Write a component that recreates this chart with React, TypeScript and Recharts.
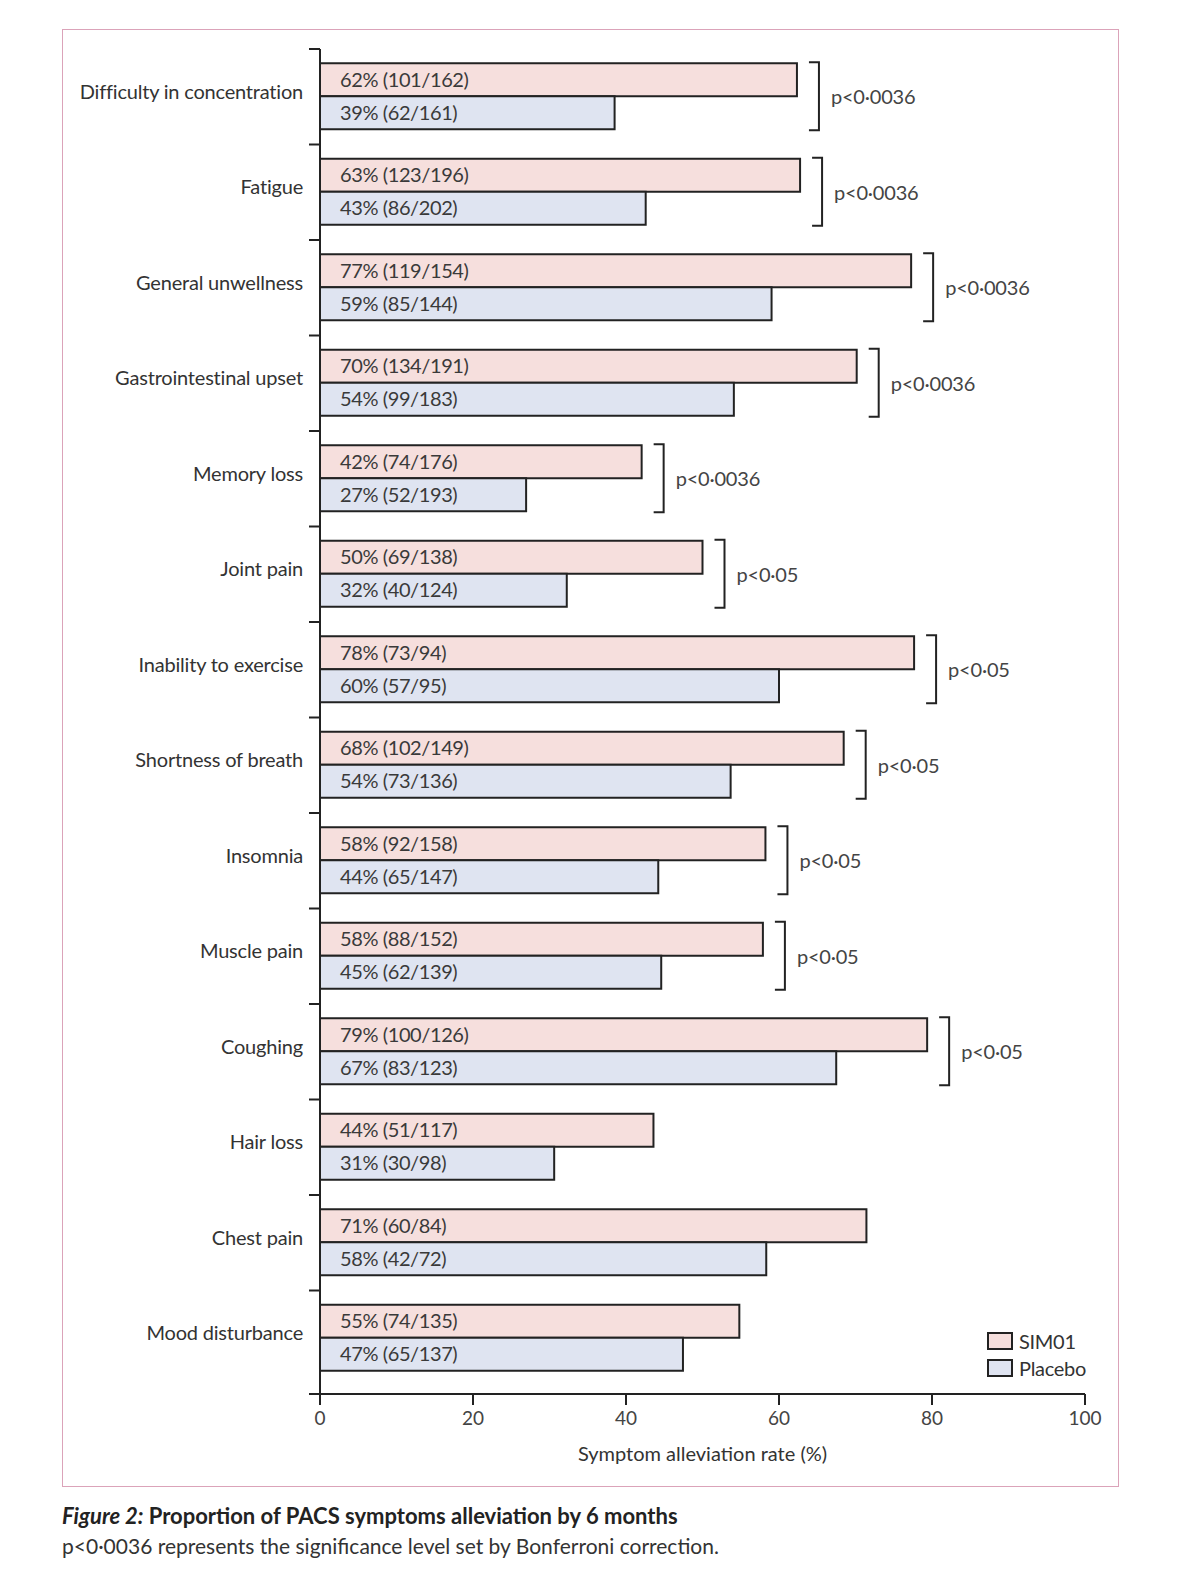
import React from 'react';
import { BarChart, Bar, XAxis, YAxis, LabelList } from 'recharts';

const categories = [
  'Difficulty in concentration',
  'Fatigue',
  'General unwellness',
  'Gastrointestinal upset',
  'Memory loss',
  'Joint pain',
  'Inability to exercise',
  'Shortness of breath',
  'Insomnia',
  'Muscle pain',
  'Coughing',
  'Hair loss',
  'Chest pain',
  'Mood disturbance',
];
const sim01Alleviated = [101, 123, 119, 134, 74, 69, 73, 102, 92, 88, 100, 51, 60, 74];
const sim01Total = [162, 196, 154, 191, 176, 138, 94, 149, 158, 152, 126, 117, 84, 135];
const placeboAlleviated = [62, 86, 85, 99, 52, 40, 57, 73, 65, 62, 83, 30, 42, 65];
const placeboTotal = [161, 202, 144, 183, 193, 124, 95, 136, 147, 139, 123, 98, 72, 137];
const pValues = [
  'p<0·0036', 'p<0·0036', 'p<0·0036', 'p<0·0036', 'p<0·0036',
  'p<0·05', 'p<0·05', 'p<0·05', 'p<0·05', 'p<0·05', 'p<0·05',
  '', '', '',
];
const xTicks = [0, 20, 40, 60, 80, 100];

const FONT = 'Lato, "Noto Sans", sans-serif';
const INK = '#222';
const PINK = '#f6dfdd';
const BLUE = '#dfe4f1';

// layout
const W = 1179;
const H = 1588;
const AXIS_X = 320;
const PLOT_TOP = 49;
const PLOT_BOTTOM = 1394;
const PLOT_RIGHT = 1085;
const XAXIS_H = 70;

const label = (n: number, t: number) => `${Math.round((n / t) * 100)}% (${n}/${t})`;

const data = categories.map((name, i) => ({
  name,
  sim01: (sim01Alleviated[i] / sim01Total[i]) * 100,
  placebo: (placeboAlleviated[i] / placeboTotal[i]) * 100,
  simLabel: label(sim01Alleviated[i], sim01Total[i]),
  plaLabel: label(placeboAlleviated[i], placeboTotal[i]),
  p: pValues[i],
}));

const YTick = (props: any) => {
  const { y, payload, index } = props;
  const half = payload && payload.offset ? payload.offset : 47.75;
  return (
    <g>
      <line x1={AXIS_X - 11} x2={AXIS_X} y1={y - half} y2={y - half} stroke={INK} strokeWidth={2} />
      {index === categories.length - 1 && (
        <line x1={AXIS_X - 11} x2={AXIS_X} y1={PLOT_BOTTOM} y2={PLOT_BOTTOM} stroke={INK} strokeWidth={2} />
      )}
      <text
        x={AXIS_X - 17}
        y={y - 6}
        textAnchor="end"
        dominantBaseline="central"
        fontFamily={FONT}
        fontSize={20}
        letterSpacing={-0.2}
        fill="#333"
      >
        {payload.value}
      </text>
    </g>
  );
};

const Bracket = (props: any) => {
  const vb = props.viewBox || props;
  const { x, y, width, height } = vb;
  const p = data[props.index]?.p;
  if (!p) return null;
  const bx = x + width + 22;
  const top = y - 1;
  const bottom = y + height * 2 + 1;
  return (
    <g>
      <path
        d={`M${bx - 10},${top} H${bx} V${bottom} H${bx - 10}`}
        fill="none"
        stroke={INK}
        strokeWidth={2}
      />
      <text
        x={bx + 12}
        y={y + height}
        dominantBaseline="central"
        fontFamily={FONT}
        fontSize={20}
        letterSpacing={-0.2}
        fill="#444"
      >
        {p}
      </text>
    </g>
  );
};

const LegendBox = ({ color, text }: { color: string; text: string }) => (
  <div style={{ display: 'flex', alignItems: 'center', height: 27 }}>
    <div
      style={{
        width: 22,
        height: 14,
        background: color,
        border: `2px solid ${INK}`,
        marginRight: 6,
      }}
    />
    <span style={{ fontFamily: FONT, fontSize: 20, color: '#333', letterSpacing: -0.3 }}>{text}</span>
  </div>
);

export default function App() {
  return (
    <div style={{ position: 'absolute', left: 0, top: 0, width: W, height: H, background: '#fff' }}>
      <div
        style={{
          position: 'absolute',
          left: 62,
          top: 29,
          width: 1055,
          height: 1456,
          border: '1.5px solid #dba3b9',
        }}
      />
      <div style={{ position: 'absolute', left: 0, top: 0 }}>
        <BarChart
          width={W}
          height={H}
          data={data}
          layout="vertical"
          barCategoryGap="15%"
          barGap={0}
          margin={{ top: PLOT_TOP, right: W - PLOT_RIGHT, bottom: H - PLOT_BOTTOM - XAXIS_H, left: 0 }}
        >
          <XAxis
            type="number"
            domain={[0, 100]}
            ticks={xTicks}
            height={XAXIS_H}
            tickSize={11}
            tickMargin={7}
            axisLine={{ stroke: INK, strokeWidth: 2 }}
            tickLine={{ stroke: INK, strokeWidth: 2 }}
            tick={{ fontFamily: FONT, fontSize: 19, fill: '#444' }}
            label={{
              value: 'Symptom alleviation rate (%)',
              position: 'insideBottom',
              offset: 3,
              style: { fontFamily: FONT, fontSize: 20, fill: '#333' },
            }}
          />
          <YAxis
            type="category"
            dataKey="name"
            width={AXIS_X}
            padding={{ top: 0, bottom: 8 }}
            axisLine={{ stroke: INK, strokeWidth: 2 }}
            tickLine={false}
            tick={<YTick />}
            interval={0}
          />
          <Bar dataKey="sim01" fill={PINK} stroke={INK} strokeWidth={2} isAnimationActive={false}>
            <LabelList
              dataKey="simLabel"
              position="insideLeft"
              offset={20}
              fill="#3a3a3a"
              fontFamily={FONT}
              fontSize={20}
              letterSpacing={-0.4}
            />
            <LabelList dataKey="p" content={<Bracket />} />
          </Bar>
          <Bar dataKey="placebo" fill={BLUE} stroke={INK} strokeWidth={2} isAnimationActive={false}>
            <LabelList
              dataKey="plaLabel"
              position="insideLeft"
              offset={20}
              fill="#3a3a3a"
              fontFamily={FONT}
              fontSize={20}
              letterSpacing={-0.4}
            />
          </Bar>
        </BarChart>
      </div>
      <div style={{ position: 'absolute', left: 987, top: 1327 }}>
        <LegendBox color={PINK} text="SIM01" />
        <LegendBox color={BLUE} text="Placebo" />
      </div>
      <div style={{ position: 'absolute', left: 62, top: 1501, fontFamily: FONT, color: '#222' }}>
        <div style={{ fontSize: 22, fontWeight: 700, lineHeight: '30px' }}>
          <i>Figure 2:</i> Proportion of PACS symptoms alleviation by 6 months
        </div>
        <div style={{ fontSize: 21, color: '#333', lineHeight: '30px' }}>
          p&lt;0·0036 represents the significance level set by Bonferroni correction.
        </div>
      </div>
    </div>
  );
}
